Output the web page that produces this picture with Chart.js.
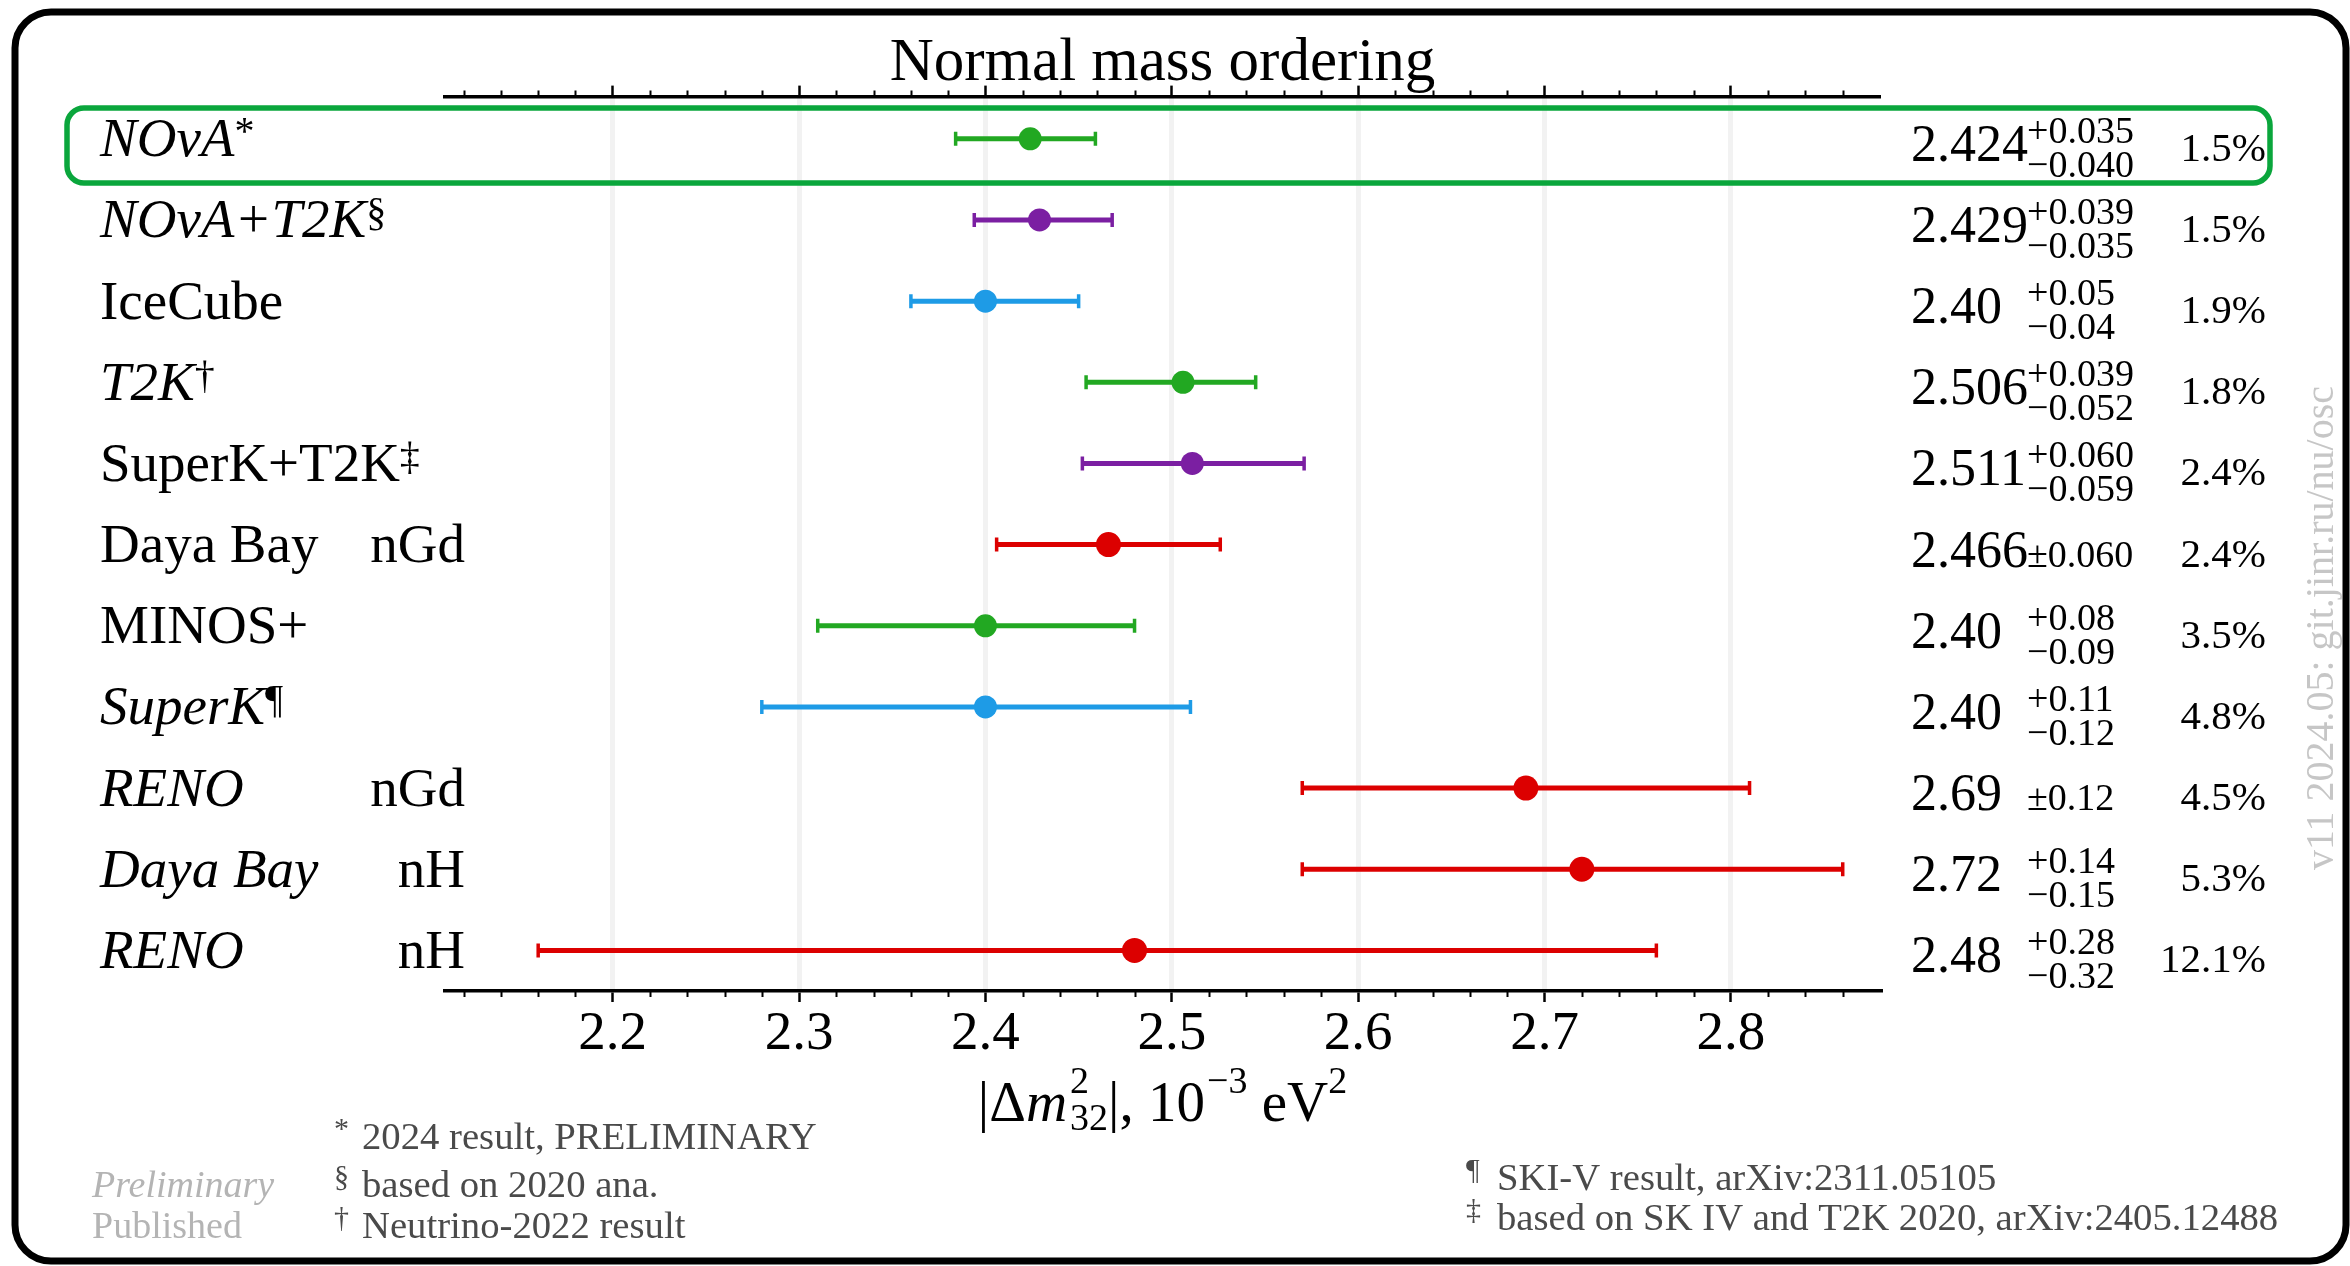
<!DOCTYPE html>
<html>
<head>
<meta charset="utf-8">
<title>Normal mass ordering — |Δm²32| measurements</title>
<script src="https://cdn.jsdelivr.net/npm/chart.js@4.4.1/dist/chart.umd.min.js"></script>
<style>
  html, body { margin: 0; padding: 0; background: #fff; }
  canvas { display: block; }
</style>
</head>
<body>
<canvas id="chart" width="2350" height="1266"></canvas>
<script>
// ---- data -------------------------------------------------------------
const experiments  = ['NOvA', 'NOvA+T2K', 'IceCube', 'T2K', 'SuperK+T2K', 'Daya Bay', 'MINOS+', 'SuperK', 'RENO', 'Daya Bay', 'RENO'];
const footMarks    = ['*', '§', '', '†', '‡', '', '', '¶', '', '', ''];
const channels     = ['', '', '', '', '', 'nGd', '', '', 'nGd', 'nH', 'nH'];
const preliminary  = [true, true, false, true, false, false, false, true, true, true, true];
const valueText    = ['2.424', '2.429', '2.40', '2.506', '2.511', '2.466', '2.40', '2.40', '2.69', '2.72', '2.48'];
const centralValues = [2.424, 2.429, 2.40, 2.506, 2.511, 2.466, 2.40, 2.40, 2.69, 2.72, 2.48];
const errPlus      = [0.035, 0.039, 0.05, 0.039, 0.060, 0.060, 0.08, 0.11, 0.12, 0.14, 0.28];
const errMinus     = [0.040, 0.035, 0.04, 0.052, 0.059, 0.060, 0.09, 0.12, 0.12, 0.15, 0.32];
const highlightRow = 0;

const majorTicks = [2.2, 2.3, 2.4, 2.5, 2.6, 2.7, 2.8];
const minorTicks = [2.12, 2.14, 2.16, 2.18, 2.22, 2.24, 2.26, 2.28, 2.32, 2.34, 2.36, 2.38,
                    2.42, 2.44, 2.46, 2.48, 2.52, 2.54, 2.56, 2.58, 2.62, 2.64, 2.66, 2.68,
                    2.72, 2.74, 2.76, 2.78, 2.82, 2.84, 2.86];

const footnotesLeft  = [['*', '2024 result, PRELIMINARY'], ['§', 'based on 2020 ana.'], ['†', 'Neutrino-2022 result']];
const footnotesRight = [['¶', 'SKI-V result, arXiv:2311.05105'], ['‡', 'based on SK IV and T2K 2020, arXiv:2405.12488']];
const watermark = 'v11 2024.05: git.jinr.ru/nu/osc';

// ---- styling ------------------------------------------------------------
const GREEN = '#22a822', PURPLE = '#7b1fa2', BLUE = '#1e9be6', RED = '#dc0000';
const pointColors = [GREEN, PURPLE, BLUE, GREEN, PURPLE, RED, GREEN, BLUE, RED, RED, RED];
const SERIF = "'Liberation Serif', 'Times New Roman', serif";
const X_MIN = 2.11, X_MAX = 2.88;
const ROW_MIN = -0.52, ROW_MAX = 10.5;

function font(size, italic) { return (italic ? 'italic ' : '') + size + 'px ' + SERIF; }

function runsWidth(ctx, runs) {
  let w = 0;
  for (const r of runs) {
    ctx.font = font(r.size, r.italic);
    if (r.stack) {
      w += Math.max(...r.stack.map(s => ctx.measureText(s.text).width));
    } else {
      w += ctx.measureText(r.text).width + (r.gap || 0);
    }
  }
  return w;
}

function drawRuns(ctx, x, y, runs) {
  ctx.textAlign = 'left';
  ctx.textBaseline = 'alphabetic';
  for (const r of runs) {
    ctx.font = font(r.size, r.italic);
    if (r.stack) {
      let w = 0;
      for (const s of r.stack) {
        ctx.fillText(s.text, x, y + s.dy);
        w = Math.max(w, ctx.measureText(s.text).width);
      }
      x += w;
    } else {
      ctx.fillText(r.text, x, y + (r.dy || 0));
      x += ctx.measureText(r.text).width + (r.gap || 0);
    }
  }
  return x;
}

function roundedRect(ctx, x, y, w, h, r) {
  ctx.beginPath();
  ctx.moveTo(x + r, y);
  ctx.arcTo(x + w, y, x + w, y + h, r);
  ctx.arcTo(x + w, y + h, x, y + h, r);
  ctx.arcTo(x, y + h, x, y, r);
  ctx.arcTo(x, y, x + w, y, r);
  ctx.closePath();
}

function errText(v, decimals) { return v.toFixed(decimals); }

// ---- decorations, labels and value column --------------------------------
const annotations = {
  id: 'annotations',
  beforeDraw(chart) {
    const { ctx, width, height } = chart;
    ctx.save();
    ctx.fillStyle = '#fff';
    ctx.fillRect(0, 0, width, height);
    ctx.lineWidth = 7;
    ctx.strokeStyle = '#000';
    roundedRect(ctx, 15, 12, 2331, 1249, 36);
    ctx.stroke();
    ctx.restore();
  },
  afterDraw(chart) {
    const { ctx } = chart;
    const xs = chart.scales.x, ys = chart.scales.y;
    ctx.save();

    // minor ticks on both horizontal axes
    ctx.strokeStyle = '#000';
    ctx.lineWidth = 2;
    ctx.beginPath();
    for (const v of minorTicks) {
      const px = Math.round(xs.getPixelForValue(v)) + 0.5;
      ctx.moveTo(px, chart.chartArea.bottom);
      ctx.lineTo(px, chart.chartArea.bottom + 6);
      ctx.moveTo(px, chart.chartArea.top);
      ctx.lineTo(px, chart.chartArea.top - 6);
    }
    ctx.stroke();

    // highlighted row
    const hTop = ys.getPixelForValue(highlightRow - 0.38);
    const hBot = ys.getPixelForValue(highlightRow + 0.545);
    ctx.strokeStyle = '#0aa63c';
    ctx.lineWidth = 5.5;
    roundedRect(ctx, 67, hTop, 2270 - 67, hBot - hTop, 17);
    ctx.stroke();

    ctx.fillStyle = '#000';
    experiments.forEach((name, i) => {
      const y0 = ys.getPixelForValue(i);
      // experiment name
      const runs = [{ text: name, size: 55, italic: preliminary[i] }];
      if (footMarks[i]) runs.push({ text: footMarks[i], size: 40, dy: -12 });
      drawRuns(ctx, 100, y0 + 17.5, runs);
      if (channels[i]) {
        ctx.font = font(55, false);
        ctx.textAlign = 'right';
        ctx.fillText(channels[i], 465, y0 + 17.5);
      }
      // central value and its uncertainties
      const dec = (valueText[i].split('.')[1] || '').length;
      drawRuns(ctx, 1911, y0 + 22, [{ text: valueText[i], size: 52 }]);
      if (errPlus[i] === errMinus[i]) {
        drawRuns(ctx, 2027, y0 + 22, [{ text: '±' + errText(errPlus[i], dec), size: 38 }]);
      } else {
        drawRuns(ctx, 2027, y0 + 4, [{ text: '+' + errText(errPlus[i], dec), size: 38 }]);
        drawRuns(ctx, 2027, y0 + 38, [{ text: '\u2212' + errText(errMinus[i], dec), size: 38 }]);
      }
      // relative precision
      const rel = ((errPlus[i] + errMinus[i]) / 2 / centralValues[i] * 100).toFixed(1) + '%';
      ctx.font = font(41, false);
      ctx.textAlign = 'right';
      ctx.fillText(rel, 2266, y0 + 22);
    });

    // axis title |Δm²₃₂|, 10⁻³ eV²
    const titleRuns = [
      { text: '|\u0394', size: 57 },
      { text: 'm', size: 57, italic: true, gap: 3 },
      { stack: [{ text: '2', dy: -28 }, { text: '32', dy: 9 }], size: 38 },
      { text: '|, 10', size: 57, gap: 2 },
      { text: '\u22123', size: 38, dy: -28 },
      { text: ' eV', size: 57 },
      { text: '2', size: 38, dy: -28 }
    ];
    const tw = runsWidth(ctx, titleRuns);
    drawRuns(ctx, (chart.chartArea.left + chart.chartArea.right) / 2 - tw / 2, 1121, titleRuns);

    // footnotes
    ctx.fillStyle = '#4a4a4a';
    const leftBase = [1149, 1197, 1238];
    footnotesLeft.forEach(([m, t], k) => {
      drawRuns(ctx, 334, leftBase[k], [{ text: m, size: 30, dy: -11 }]);
      drawRuns(ctx, 362, leftBase[k], [{ text: t, size: 38.7 }]);
    });
    const rightBase = [1190, 1230];
    footnotesRight.forEach(([m, t], k) => {
      drawRuns(ctx, 1466, rightBase[k], [{ text: m, size: 30, dy: -11 }]);
      drawRuns(ctx, 1497, rightBase[k], [{ text: t, size: 38.7 }]);
    });

    // style legend
    ctx.fillStyle = '#b4b4b4';
    drawRuns(ctx, 92, 1197, [{ text: 'Preliminary', size: 38, italic: true }]);
    drawRuns(ctx, 92, 1238, [{ text: 'Published', size: 38 }]);

    // version stamp
    ctx.save();
    ctx.translate(2333, 628);
    ctx.rotate(-Math.PI / 2);
    ctx.fillStyle = '#c6c6c6';
    ctx.font = font(40, false);
    ctx.textAlign = 'center';
    ctx.textBaseline = 'alphabetic';
    ctx.fillText(watermark, 0, 0);
    ctx.restore();

    ctx.restore();
  }
};

// ---- datasets -------------------------------------------------------------
const markerSet = {
  label: 'central values',
  data: centralValues.map((v, i) => ({ x: v, y: i })),
  pointBackgroundColor: pointColors,
  pointBorderColor: pointColors,
  pointBorderWidth: 0,
  pointRadius: ctx => (pointColors[ctx.dataIndex] === RED ? 12.5 : 11.5),
  showLine: false,
  order: 0
};

const errorSets = experiments.map((name, i) => ({
  label: name + (channels[i] ? ' ' + channels[i] : ''),
  data: [{ x: centralValues[i] - errMinus[i], y: i }, { x: centralValues[i] + errPlus[i], y: i }],
  showLine: true,
  borderColor: pointColors[i],
  borderWidth: 5,
  pointStyle: 'line',
  pointRotation: 90,
  pointRadius: 7,
  pointBorderWidth: 3.5,
  pointBorderColor: pointColors[i],
  order: 1
}));

new Chart(document.getElementById('chart'), {
  type: 'scatter',
  data: { datasets: [markerSet, ...errorSets] },
  options: {
    responsive: false,
    animation: false,
    devicePixelRatio: 1,
    layout: { padding: { left: 445, right: 470, top: 27, bottom: 0 } },
    plugins: {
      legend: { display: false },
      tooltip: { enabled: false },
      title: {
        display: true,
        text: 'Normal mass ordering',
        color: '#000',
        font: { family: SERIF, size: 61, weight: 'normal', lineHeight: 1.2 },
        padding: { top: 0, bottom: -8 }
      }
    },
    scales: {
      x: {
        type: 'linear',
        position: 'bottom',
        min: X_MIN,
        max: X_MAX,
        afterBuildTicks: s => { s.ticks = majorTicks.map(v => ({ value: v })); },
        afterFit: s => { s.height = 275; },
        ticks: {
          color: '#000',
          font: { family: SERIF, size: 55 },
          padding: 0,
          maxRotation: 0,
          autoSkip: false,
          callback: v => Number(v).toFixed(1)
        },
        grid: { color: '#f2f2f2', lineWidth: 5, drawTicks: true, tickLength: 11, tickColor: '#000', tickWidth: 2.5 },
        border: { display: true, color: '#000', width: 3.5 }
      },
      x2: {
        type: 'linear',
        position: 'top',
        min: X_MIN,
        max: X_MAX,
        afterBuildTicks: s => { s.ticks = majorTicks.map(v => ({ value: v })); },
        afterFit: s => { s.height = 4.4; },
        ticks: { display: false },
        grid: { drawOnChartArea: false, drawTicks: true, tickLength: 11, tickColor: '#000', tickWidth: 2.5 },
        border: { display: true, color: '#000', width: 3.5 }
      },
      y: {
        type: 'linear',
        min: ROW_MIN,
        max: ROW_MAX,
        reverse: true,
        display: false
      }
    }
  },
  plugins: [annotations]
});
</script>
</body>
</html>
